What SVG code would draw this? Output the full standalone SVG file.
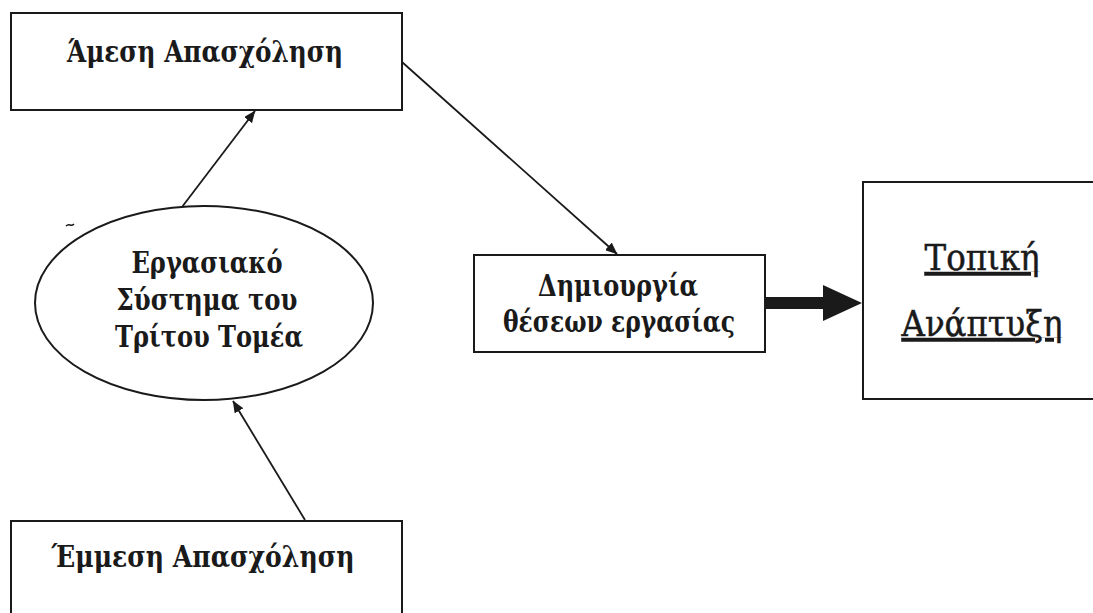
<svg xmlns="http://www.w3.org/2000/svg" width="1093" height="613" viewBox="0 0 1093 613">
<style>
.box{fill:#fff;stroke:#1a1a1a;stroke-width:2}
.t{font-family:"DejaVu Serif","Liberation Serif",serif;font-weight:bold;fill:#1a1a1a;text-anchor:middle;font-size:30px}
.u{font-family:"DejaVu Serif","Liberation Serif",serif;font-weight:normal;fill:#1a1a1a;text-anchor:middle;font-size:35px;stroke:#1a1a1a;stroke-width:0.5}
.c{stroke:#1a1a1a;stroke-width:1.8;fill:none}
</style>
<defs>
<marker id="ah" viewBox="0 0 12 10" refX="11.5" refY="5" markerWidth="12" markerHeight="10" markerUnits="userSpaceOnUse" orient="auto">
<path d="M0,0 L12,5 L0,10 Z" fill="#1a1a1a"/>
</marker>
</defs>
<rect width="1093" height="613" fill="#fff"/>
<g id="amesi">
<rect class="box" x="11" y="13" width="391" height="97"/>
<text class="t" x="205" y="62" textLength="276" lengthAdjust="spacingAndGlyphs">Άμεση Απασχόληση</text>
</g>
<g id="ergasiako">
<ellipse class="box" cx="204" cy="303" rx="169" ry="97"/>
<text class="t" x="207" y="273" textLength="151" lengthAdjust="spacingAndGlyphs">Εργασιακό</text>
<text class="t" x="207" y="310" textLength="181" lengthAdjust="spacingAndGlyphs">Σύστημα του</text>
<text class="t" x="209" y="347" textLength="188" lengthAdjust="spacingAndGlyphs">Τρίτου Τομέα</text>
<path d="M66,226 q2,-2 4,-1 q2,1 4,-1" stroke="#1a1a1a" stroke-width="1.5" fill="none"/>
</g>
<g id="dimiourgia">
<rect class="box" x="474" y="255" width="291" height="97"/>
<text class="t" x="618" y="296" textLength="160" lengthAdjust="spacingAndGlyphs">Δημιουργία</text>
<text class="t" x="619" y="332" textLength="232" lengthAdjust="spacingAndGlyphs">θέσεων εργασίας</text>
</g>
<g id="topiki">
<rect class="box" x="863" y="182" width="240" height="217"/>
<text class="u" x="982" y="270" textLength="115" lengthAdjust="spacingAndGlyphs" text-decoration="underline">Τοπική</text>
<text class="u" x="982" y="336" textLength="161" lengthAdjust="spacingAndGlyphs" text-decoration="underline">Ανάπτυξη</text>
</g>
<g id="emmesi">
<rect class="box" x="11" y="521" width="391" height="100"/>
<text class="t" x="203" y="567" textLength="303" lengthAdjust="spacingAndGlyphs">Έμμεση Απασχόληση</text>
</g>
<g id="connectors">
<line class="c" x1="182" y1="207" x2="255" y2="111" marker-end="url(#ah)"/>
<line class="c" x1="305" y1="520" x2="233" y2="401" marker-end="url(#ah)"/>
<line class="c" x1="402" y1="62" x2="617" y2="254" marker-end="url(#ah)"/>
<path d="M765,297 L823,297 L823,285 L862,303 L823,321 L823,309 L765,309 Z" fill="#1a1a1a"/>
</g>
</svg>
